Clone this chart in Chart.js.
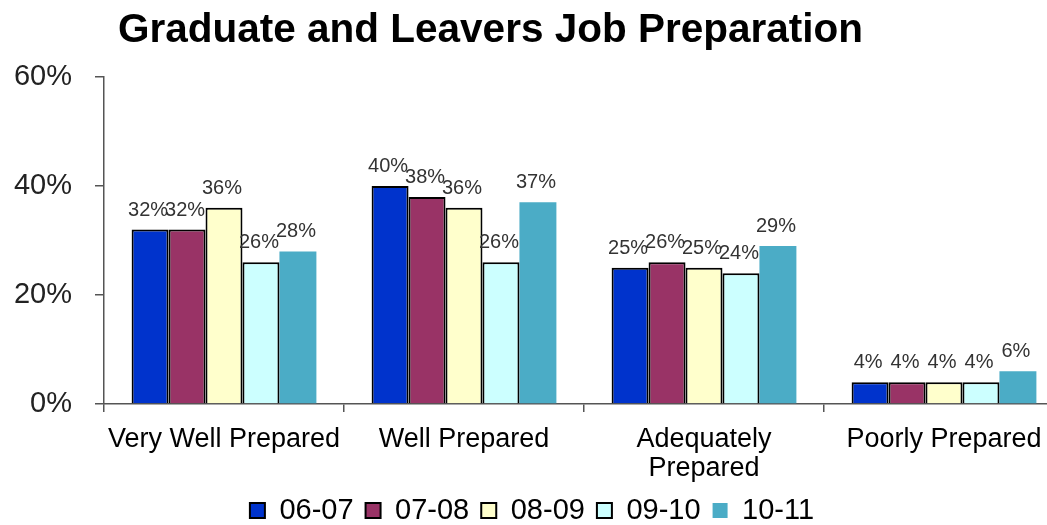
<!DOCTYPE html>
<html>
<head>
<meta charset="utf-8">
<script src="https://cdn.jsdelivr.net/npm/chart.js@4"></script>
<style>
  body { margin: 0; background: #fff; overflow: hidden; }
  #wrap { position: relative; width: 1047px; height: 525px; overflow: hidden; }
  #title {
    position: absolute; left: 118px; top: 8px;
    font: bold 40.5px "Liberation Sans", Arial, sans-serif; line-height: 40px;
    color: #000; white-space: nowrap;
  }
  #myChart { position: absolute; left: 0; top: 0; }
</style>
</head>
<body>
<div id="wrap">
  <canvas id="myChart" width="1064" height="535"></canvas>
  <div id="title">Graduate and Leavers Job Preparation</div>
</div>
<script>
const categories = ['Very Well Prepared', 'Well Prepared', ['Adequately', 'Prepared'], 'Poorly Prepared'];
const years = ['06-07', '07-08', '08-09', '09-10', '10-11'];
const y0607 = [32, 40, 25, 4];
const y0708 = [32, 38, 26, 4];
const y0809 = [36, 36, 25, 4];
const y0910 = [26, 26, 24, 4];
const y1011 = [28, 37, 29, 6];
const yTicks = [0, 20, 40, 60];

const fills = ['#0033CC', '#993366', '#FFFFCC', '#CCFFFF', '#4BACC6'];
const seriesValues = [y0607, y0708, y0809, y0910, y1011];
const FONT = '"Liberation Sans", Arial, sans-serif';

// value labels above each bar
const valueLabels = {
  id: 'valueLabels',
  afterDatasetsDraw(chart) {
    const c = chart.ctx;
    c.save();
    c.font = '20px ' + FONT;
    c.fillStyle = '#333';
    c.textAlign = 'center';
    c.textBaseline = 'alphabetic';
    chart.data.datasets.forEach((ds, i) => {
      chart.getDatasetMeta(i).data.forEach((bar, j) => {
        c.fillText(ds.data[j] + '%', bar.x - 2, bar.y - 14);
      });
    });
    c.restore();
  }
};

// the canvas is a bit larger than the page, the right edge gets cut off like the original
const ctx = document.getElementById('myChart');

new Chart(ctx, {
  type: 'bar',
  data: {
    labels: categories,
    datasets: years.map((y, i) => ({
      label: y,
      data: seriesValues[i],
      backgroundColor: fills[i],
      borderColor: i < 4 ? '#000' : fills[i],
      borderWidth: i < 4 ? 2 : 0,
      categoryPercentage: 0.77,
      barPercentage: 1
    }))
  },
  plugins: [valueLabels],
  options: {
    responsive: false,
    animation: false,
    layout: { padding: { top: 77, right: 0, left: 0, bottom: 0 } },
    plugins: {
      legend: {
        position: 'bottom',
        labels: {
          boxWidth: 15,
          boxHeight: 15,
          padding: 12,
          color: '#000',
          font: { size: 29, family: FONT }
        }
      },
      tooltip: { enabled: false }
    },
    scales: {
      x: {
        afterFit(scale) { scale.height = 80; },
        border: { color: '#555', width: 1.5 },
        grid: { drawOnChartArea: false, drawTicks: true, tickLength: 8, color: '#555', lineWidth: 1.5 },
        ticks: {
          color: '#000',
          maxRotation: 0,
          autoSkip: false,
          padding: 13,
          font: { size: 27, family: FONT, lineHeight: 1.08 }
        }
      },
      y: {
        min: 0,
        max: 60,
        afterFit(scale) { scale.width = 104; },
        afterBuildTicks(scale) { scale.ticks = yTicks.map(v => ({ value: v })); },
        border: { color: '#555', width: 1.5 },
        grid: { drawOnChartArea: false, drawTicks: true, tickLength: 9, color: '#555', lineWidth: 1.5 },
        ticks: {
          color: '#222',
          padding: 23,
          callback: v => v + '%',
          font: { size: 29, family: FONT }
        }
      }
    }
  }
});
</script>
</body>
</html>
